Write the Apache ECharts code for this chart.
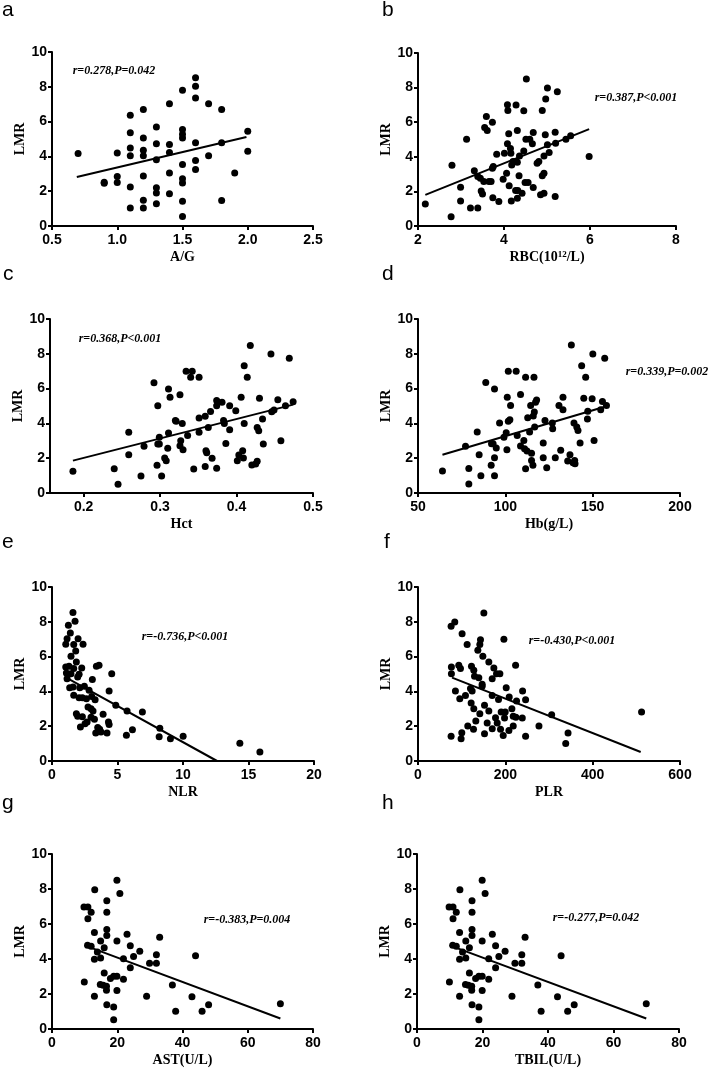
<!DOCTYPE html>
<html><head><meta charset="utf-8">
<script src="https://cdn.jsdelivr.net/npm/echarts@6/dist/echarts.min.js"></script>
<style>html,body{margin:0;padding:0;background:#fff}#c{width:709px;height:1068px}</style>
</head><body><div id="c"></div>
<script>
// ---------- tick labels ----------
const lmrTicks = [0, 2, 4, 6, 8, 10];
const agTicks = [0.5, 1.0, 1.5, 2.0, 2.5];
const rbcTicks = [2, 4, 6, 8];
const hctTicks = [0.2, 0.3, 0.4, 0.5];
const hctMin = 0.156;
const hbTicks = [50, 100, 150, 200];
const nlrTicks = [0, 5, 10, 15, 20];
const plrTicks = [0, 200, 400, 600];
const astTicks = [0, 20, 40, 60, 80];
const tbilTicks = [0, 20, 40, 60, 80];

// ---------- panel letters / annotations / axis names ----------
const panelLetters = ['a', 'b', 'c', 'd', 'e', 'f', 'g', 'h'];
const corrTexts = ['r=0.278,P=0.042', 'r=0.387,P<0.001', 'r=0.368,P<0.001', 'r=0.339,P=0.002',
                   'r=-0.736,P<0.001', 'r=-0.430,P<0.001', 'r=-0.383,P=0.004', 'r=-0.277,P=0.042'];
const xNames = ['A/G', 'RBC', 'Hct', 'Hb(g/L)', 'NLR', 'PLR', 'AST(U/L)', 'TBIL(U/L)'];
const yName = 'LMR';

// ---------- data: a  A/G ----------
const agX = [0.7, 0.9, 0.9, 1.0, 1.0, 1.0, 1.1, 1.1, 1.1, 1.1, 1.1, 1.1, 1.2, 1.2, 1.2, 1.2, 1.2, 1.2, 1.2,
  1.3, 1.3, 1.3, 1.3, 1.3, 1.3, 1.4, 1.4, 1.4, 1.4, 1.4, 1.5, 1.5, 1.5, 1.5, 1.5, 1.5, 1.5, 1.5, 1.5,
  1.6, 1.6, 1.6, 1.6, 1.6, 1.6, 1.7, 1.7, 1.8, 1.8, 1.8, 1.9, 2.0, 2.0];
const agY = [4.16, 2.45, 2.52, 4.2, 2.85, 2.5, 6.36, 5.36, 4.48, 4.04, 2.24, 1.03, 6.7, 5.06, 4.35, 4.04, 2.87, 1.48, 1.03,
  5.69, 4.73, 3.81, 2.2, 1.9, 1.28, 7.03, 4.69, 4.23, 3.05, 1.86, 7.8, 5.54, 5.27, 5.06, 3.54, 2.72, 2.47, 1.42, 0.54,
  8.52, 8.03, 7.36, 4.79, 3.77, 3.24, 7.03, 4.04, 6.7, 4.79, 1.46, 3.05, 5.44, 4.29];
const agFitX = [0.69, 1.99];
const agFitY = [2.82, 5.11];

// ---------- data: b  RBC ----------
const rbcX = [2.17, 2.79, 2.77, 2.99, 2.99, 3.13, 3.22, 3.31, 3.39, 3.39, 3.45, 3.47, 3.50, 3.53, 3.55, 3.59, 3.61, 3.65,
  3.70, 3.73, 3.73, 3.75, 3.74, 3.83, 3.88, 3.98, 4.01, 4.06, 4.08, 4.08, 4.09, 4.11, 4.12, 4.15, 4.16, 4.17, 4.18,
  4.21, 4.28, 4.31, 4.31, 4.27, 4.31, 4.32, 4.35, 4.36, 4.42, 4.46, 4.46, 4.49, 4.52, 4.51, 4.56, 4.60, 4.66, 4.68,
  4.68, 4.77, 4.81, 4.85, 4.89, 4.89, 4.93, 4.93, 4.93, 4.96, 4.97, 5.01, 5.01, 5.05, 5.19, 5.19, 5.20, 5.24, 5.44,
  5.55, 5.98];
const rbcY = [1.27, 3.51, 0.54, 2.24, 1.45, 5.02, 1.04, 3.2, 1.04, 2.86, 2.76, 2.03, 1.85, 2.57, 5.69, 6.33, 5.52, 2.57,
  2.57, 6.0, 3.34, 3.44, 1.64, 4.15, 1.41, 2.7, 4.21, 3.05, 4.75, 7.01, 6.68, 5.33, 2.32, 4.48, 4.21, 1.45, 3.53,
  3.73, 6.99, 5.52, 3.69, 2.05, 1.6, 2.05, 2.9, 4.05, 1.89, 6.66, 4.34, 2.51, 8.49, 5.02, 2.51, 5.02, 4.75, 5.41,
  2.22, 3.63, 3.73, 1.8, 6.68, 2.9, 3.05, 4.05, 1.89, 5.27, 7.34, 4.69, 7.97, 4.25, 1.7, 5.42, 4.79, 7.76, 5.02,
  5.21, 4.02];
const rbcFitX = [2.17, 5.98];
const rbcFitY = [1.8, 5.6];

// ---------- data: c  Hct ----------
const hctX = [0.186, 0.240, 0.245, 0.259, 0.259, 0.275, 0.279, 0.292, 0.296, 0.297, 0.297, 0.299, 0.299, 0.302, 0.306,
  0.308, 0.310, 0.311, 0.311, 0.313, 0.320, 0.321, 0.326, 0.326, 0.327, 0.329, 0.330, 0.334, 0.336, 0.340, 0.342,
  0.344, 0.351, 0.351, 0.351, 0.359, 0.359, 0.360, 0.361, 0.363, 0.366, 0.368, 0.374, 0.374, 0.374, 0.381, 0.383,
  0.384, 0.386, 0.391, 0.391, 0.399, 0.401, 0.403, 0.406, 0.408, 0.409, 0.410, 0.410, 0.414, 0.418, 0.420, 0.425,
  0.427, 0.427, 0.429, 0.430, 0.434, 0.435, 0.445, 0.446, 0.449, 0.454, 0.458, 0.464, 0.469, 0.474];
const hctY = [1.25, 1.4, 0.5, 3.49, 2.2, 0.98, 2.68, 6.34, 1.59, 2.82, 5.02, 3.2, 2.82, 0.98, 2.01,
  1.86, 2.57, 5.98, 3.45, 5.5, 4.16, 4.12, 5.65, 2.72, 3.01, 4.0, 2.49, 6.99, 3.3, 6.65, 6.99,
  1.38, 6.65, 4.31, 3.49, 4.41, 1.53, 2.43, 2.32, 3.77, 4.69, 1.99, 1.42, 5.31, 5.02, 5.21, 4.16,
  4.0, 2.85, 3.64, 5.02, 4.73, 1.86, 2.18, 5.5, 2.43, 2.01, 4.0, 7.32, 6.65, 8.47, 1.61, 1.67,
  1.82, 3.77, 3.58, 5.44, 4.25, 2.82, 7.99, 4.67, 4.77, 5.36, 3.01, 5.02, 7.74, 5.25];
const hctFitX = [0.186, 0.474];
const hctFitY = [1.86, 5.08];

// ---------- data: d  Hb ----------
const hbX = [64, 77.2, 79.1, 79.1, 83.9, 85, 86, 88.8, 91.9, 92.1, 93, 93.8, 93.8, 93.8, 94.8, 96.7, 99.2, 100.5, 100.9,
  101.1, 101.7, 101.7, 102.6, 103, 106.2, 106.8, 108.7, 108.7, 110.6, 111, 111.6, 111.6, 112.4, 112.8, 113.9, 114.5,
  115, 115, 115.8, 116, 116.4, 116.6, 116.8, 117.3, 117.9, 121.7, 121.7, 122.7, 123.7, 126.9, 127.1, 128.6, 130.7,
  131.7, 133, 133, 135.7, 137, 137.8, 138.8, 139.3, 139.7, 139.9, 140.9, 141.6, 142.8, 143.7, 144.9, 146, 147, 147.2,
  149.7, 150.1, 150.8, 154.6, 155.6, 156.9, 157.9];
const hbY = [1.26, 2.68, 1.41, 0.52, 3.5, 2.2, 0.99, 6.35, 1.59, 2.83, 2.83, 5.98, 2.03, 0.99, 2.58, 4.02, 3.21, 3.46, 2.49,
  5.51, 7.0, 4.13, 4.21, 5.03, 7.0, 3.31, 5.66, 2.7, 3.02, 2.54, 6.65, 1.4, 2.41, 4.32, 3.5, 5.03,
  2.29, 1.87, 1.59, 4.42, 6.65, 4.65, 3.79, 5.22, 5.35, 2.87, 2.03, 4.17, 1.45, 4.02, 3.69, 2.03, 5.03,
  2.45, 5.51, 4.78, 1.84, 2.2, 8.51, 1.74, 4.02, 1.87, 1.68, 3.79, 3.59, 2.87, 7.32, 5.45, 6.65, 4.26, 4.7,
  5.41, 7.99, 3.02, 4.78, 5.26, 7.74, 5.03];
const hbFitX = [64, 157.9];
const hbFitY = [2.2, 4.99];

// ---------- data: e  NLR ----------
const nlrX = [1.60, 1.76, 1.25, 1.40, 1.15, 1.99, 1.05, 1.66, 2.37, 1.81, 1.45, 1.86, 1.05, 1.30, 3.39, 3.59, 1.66, 2.27,
  1.10, 1.45, 2.07, 4.56, 1.15, 1.96, 3.08, 1.61, 1.35, 2.12, 2.47, 2.83, 4.36, 1.66, 2.07, 2.32, 3.03, 2.63, 3.29,
  4.87, 2.75, 2.98, 5.73, 6.90, 1.86, 3.13, 1.96, 3.90, 2.32, 2.98, 3.24, 2.68, 4.31, 2.17, 2.52, 4.36, 3.49, 3.64,
  3.34, 3.74, 4.20, 5.68, 6.14, 8.23, 8.18, 9.04, 10.01, 14.34, 15.87];
const nlrY = [8.53, 8.03, 7.8, 7.36, 7.03, 7.03, 6.71, 6.69, 6.71, 6.32, 6.02, 5.69, 5.40, 5.44, 5.44, 5.50, 5.31, 5.34,
  5.06, 5.02, 4.98, 5.02, 4.73, 4.83, 4.68, 4.25, 4.21, 4.21, 4.29, 4.06, 4.02, 3.78, 3.64, 3.64, 3.71, 3.58, 3.52,
  3.20, 3.10, 3.00, 2.87, 2.82, 2.72, 2.87, 2.57, 2.68, 2.55, 2.51, 2.40, 2.24, 2.24, 1.95, 2.14, 2.10, 1.93, 1.82,
  1.61, 1.66, 1.61, 1.48, 1.79, 1.88, 1.40, 1.28, 1.42, 1.02, 0.52];
const nlrFitX = [1.05, 12.6];
const nlrFitY = [4.8, 0];

// ---------- data: f  PLR ----------
const plrX = [75.8, 84.2, 101, 112.5, 143.1, 141.6, 137, 148.5, 150.8, 196.7, 162.2, 223.5, 76.5, 76.5, 93.4, 97.2,
  122.5, 127.8, 129.4, 139.3, 146.9, 146.9, 173.7, 179.8, 187.5, 169.9, 85.7, 95.7, 108.7, 120.2, 124, 121.7, 127.8,
  141.6, 152.3, 162.2, 169.9, 184.4, 190.5, 199.7, 202, 208.9, 215, 225.7, 239.5, 246.4, 132.4, 158.4, 177.5, 181.4,
  198.2, 218.1, 224.2, 238.8, 114, 127.1, 170, 189, 208.2, 218.1, 277, 100.3, 152.3, 195.1, 246.4, 75.8, 98.7,
  306.1, 343.6, 338.3, 512];
const plrY = [7.74, 7.99, 7.32, 6.69, 6.97, 6.7, 6.36, 6.02, 8.51, 6.99, 5.69, 5.5, 5.4, 5.02, 5.5, 5.31,
  5.44, 5.21, 4.87, 4.79, 4.41, 4.29, 5.34, 5.02, 5.02, 4.73, 4.02, 3.58, 3.77, 4.16, 4.02, 3.33, 3.01,
  2.72, 3.2, 2.87, 3.77, 3.54, 2.82, 2.82, 4.21, 3.68, 3.01, 3.45, 4.02, 3.52, 2.3, 2.18, 2.49, 2.18,
  2.47, 2.57, 2.51, 2.47, 2.01, 1.82, 1.86, 1.82, 1.76, 2.01, 2.01, 1.63, 1.57, 1.46, 1.42, 1.42, 1.28,
  2.66, 1.61, 1.0, 2.82];
const plrFitX = [78, 510];
const plrFitY = [4.79, 0.52];

// ---------- data: g  AST ----------
const astX = [9.8, 11.0, 11.0, 12.0, 13.1, 9.9, 10.9, 12.0, 13.0, 13.0, 13.0, 13.9, 14.9, 14.9, 14.8, 16.0, 16.0, 15.7,
  16.7, 16.7, 16.8, 16.8, 16.8, 16.8, 16.8, 17.9, 18.9, 18.9, 18.9, 19.9, 19.9, 19.9, 19.9, 20.8, 21.9, 21.9, 23.0,
  24.0, 24.0, 25.0, 26.9, 29.0, 29.9, 32.0, 32.0, 33.0, 36.9, 37.9, 42.9, 44.0, 46.0, 48.0, 70.0];
const astY = [6.97, 6.97, 6.30, 6.67, 7.96, 2.69, 4.78, 4.73, 5.52, 3.99, 1.87, 4.40, 5.03, 4.06, 2.54, 3.2, 4.65, 2.5,
  2.44, 2.21, 1.39, 7.33, 6.67, 5.68, 5.34, 2.88, 3.01, 1.26, 0.53, 3.01, 8.5, 5.03, 2.2, 7.74, 4.02, 2.84, 5.41,
  4.76, 3.5, 4.15, 4.45, 1.87, 3.76, 4.25, 3.76, 5.24, 2.51, 1.01, 1.85, 4.19, 1.01, 1.39, 1.45];
const astFitX = [10, 70];
const astFitY = [4.78, 0.6];

// ---------- data: h  TBIL ----------
const tbilX = [9.8, 11.0, 11.0, 12.0, 13.1, 9.9, 10.9, 12.0, 13.0, 13.0, 13.0, 13.9, 14.9, 14.9, 14.8, 16.0, 16.0, 15.7,
  16.7, 16.7, 16.8, 16.8, 16.8, 16.8, 16.8, 17.9, 18.9, 18.9, 18.9, 19.9, 19.9, 19.9, 19.9, 20.8, 21.9, 21.9, 23.0,
  24.0, 24.0, 25.0, 26.9, 29.0, 29.9, 32.0, 32.0, 33.0, 36.9, 37.9, 42.9, 44.0, 46.0, 48.0, 70.0];
const tbilY = [6.97, 6.97, 6.30, 6.67, 7.96, 2.69, 4.78, 4.73, 5.52, 3.99, 1.87, 4.40, 5.03, 4.06, 2.54, 3.2, 4.65, 2.5,
  2.44, 2.21, 1.39, 7.33, 6.67, 5.68, 5.34, 2.88, 3.01, 1.26, 0.53, 3.01, 8.5, 5.03, 2.2, 7.74, 4.02, 2.84, 5.41,
  4.76, 3.5, 4.15, 4.45, 1.87, 3.76, 4.25, 3.76, 5.24, 2.51, 1.01, 1.85, 4.19, 1.01, 1.39, 1.45];
const tbilFitX = [10, 70];
const tbilFitY = [4.78, 0.6];

// ---------- layout ----------
const SANS = 'Arial, "Liberation Sans", sans-serif';
const SERIF = '"Times New Roman", "Liberation Serif", serif';

const panels = [
  {x: agX, y: agY, fx: agFitX, fy: agFitY, ticks: agTicks, dec: 1,
   grid: {left: 52, top: 52, width: 261, height: 174}, letter: [2, 0], note: [114, 71]},
  {x: rbcX, y: rbcY, fx: rbcFitX, fy: rbcFitY, ticks: rbcTicks, dec: 0,
   grid: {left: 418, top: 53, width: 258, height: 173}, letter: [382, 0], note: [636, 98], rich: true},
  {x: hctX, y: hctY, fx: hctFitX, fy: hctFitY, ticks: hctTicks, dec: 1, min: hctMin,
   grid: {left: 50, top: 319, width: 263, height: 174}, letter: [3, 264], note: [120, 339]},
  {x: hbX, y: hbY, fx: hbFitX, fy: hbFitY, ticks: hbTicks, dec: 0,
   grid: {left: 418, top: 319, width: 262, height: 174}, letter: [382, 264], note: [667, 372]},
  {x: nlrX, y: nlrY, fx: nlrFitX, fy: nlrFitY, ticks: nlrTicks, dec: 0,
   grid: {left: 52, top: 587, width: 262, height: 174}, letter: [2, 532], note: [185, 637]},
  {x: plrX, y: plrY, fx: plrFitX, fy: plrFitY, ticks: plrTicks, dec: 0,
   grid: {left: 418, top: 587, width: 262, height: 174}, letter: [384, 532], note: [572, 641]},
  {x: astX, y: astY, fx: astFitX, fy: astFitY, ticks: astTicks, dec: 0,
   grid: {left: 52, top: 854, width: 261, height: 175}, letter: [2, 793], note: [247, 920]},
  {x: tbilX, y: tbilY, fx: tbilFitX, fy: tbilFitY, ticks: tbilTicks, dec: 0,
   grid: {left: 417, top: 854, width: 262, height: 175}, letter: [382, 793], note: [596, 918]}
];

const axisLine = {show: true, onZero: false, lineStyle: {color: '#000', width: 2}};
const axisTick = {show: true, inside: false, length: 4, lineStyle: {color: '#000', width: 2}};
const labelStyle = {color: '#000', fontFamily: SANS, fontWeight: 'bold', fontSize: 14};
const nameStyle = {color: '#000', fontFamily: SERIF, fontWeight: 'bold', fontSize: 14};

const grids = [], xAxes = [], yAxes = [], series = [], graphics = [];
panels.forEach((p, i) => {
  grids.push(Object.assign({containLabel: false}, p.grid));
  const t = p.ticks;
  const xa = {
    type: 'value', gridIndex: i,
    min: p.min !== undefined ? p.min : t[0], max: t[t.length - 1],
    axisLine, splitLine: {show: false},
    axisTick: Object.assign({}, axisTick),
    axisLabel: Object.assign({margin: 7, formatter: v => Number(v).toFixed(p.dec)}, labelStyle),
    name: xNames[i], nameLocation: 'middle', nameGap: 24,
    nameTextStyle: Object.assign({}, nameStyle)
  };
  if (p.min !== undefined) {
    xa.axisTick.customValues = t;
    xa.axisLabel.customValues = t;
  } else {
    xa.interval = t[1] - t[0];
  }
  if (p.rich) {
    xa.name = '{n|RBC(10}{s|12}{n|/L)}';
    xa.nameTextStyle.rich = {
      n: {fontFamily: SERIF, fontWeight: 'bold', fontSize: 14, color: '#000'},
      s: {fontFamily: SERIF, fontWeight: 'bold', fontSize: 9, color: '#000', verticalAlign: 'top'}
    };
  }
  xAxes.push(xa);
  yAxes.push({
    type: 'value', gridIndex: i, min: lmrTicks[0], max: lmrTicks[lmrTicks.length - 1],
    interval: lmrTicks[1] - lmrTicks[0],
    axisLine, splitLine: {show: false}, axisTick,
    axisLabel: Object.assign({margin: 5}, labelStyle),
    name: yName, nameLocation: 'middle', nameGap: 18, nameRotate: 90,
    nameTextStyle: nameStyle
  });
  series.push({
    type: 'scatter', xAxisIndex: i, yAxisIndex: i,
    data: p.x.map((v, k) => [v, p.y[k]]),
    symbol: 'circle', symbolSize: 7, itemStyle: {color: '#000', opacity: 1},
    silent: true, animation: false
  });
  series.push({
    type: 'line', xAxisIndex: i, yAxisIndex: i,
    data: p.fx.map((v, k) => [v, p.fy[k]]),
    symbol: 'none', lineStyle: {color: '#000', width: 2}, silent: true, animation: false
  });
  graphics.push({type: 'text', x: p.letter[0], y: p.letter[1],
    style: {text: panelLetters[i], fontFamily: SANS, fontSize: 21, fill: '#000', verticalAlign: 'top', align: 'left'}});
  graphics.push({type: 'text', x: p.note[0], y: p.note[1],
    style: {text: corrTexts[i], fontFamily: SERIF, fontSize: 12, fontWeight: 'bold', fontStyle: 'italic',
            fill: '#000', align: 'center', verticalAlign: 'middle'}});
});

const chart = echarts.init(document.getElementById('c'), null, {renderer: 'canvas'});
chart.setOption({
  animation: false,
  backgroundColor: '#fff',
  grid: grids, xAxis: xAxes, yAxis: yAxes, series, graphic: graphics
});
</script>
</body></html>
